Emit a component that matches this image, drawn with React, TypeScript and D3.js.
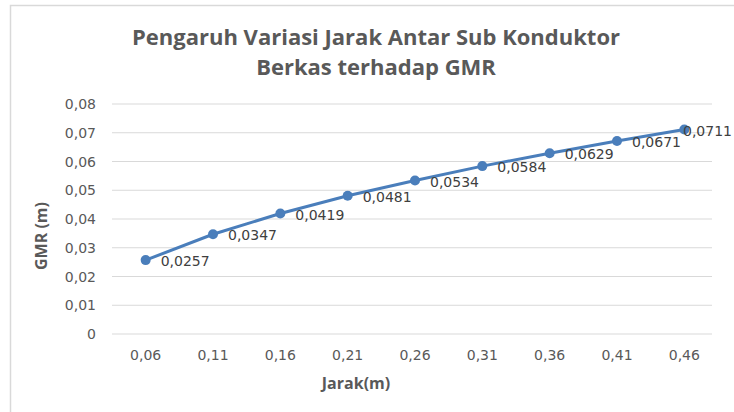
import React from "react";
import * as d3 from "d3";

const categories = ["0,06", "0,11", "0,16", "0,21", "0,26", "0,31", "0,36", "0,41", "0,46"];
const gmrValues = [0.0257, 0.0347, 0.0419, 0.0481, 0.0534, 0.0584, 0.0629, 0.0671, 0.0711];
const yTicks = [0, 0.01, 0.02, 0.03, 0.04, 0.05, 0.06, 0.07, 0.08];
const titleLines = ["Pengaruh Variasi  Jarak Antar Sub Konduktor", "Berkas terhadap GMR"];
const xTitle = "Jarak(m)";
const yTitle = "GMR (m)";

const W = 734;
const H = 412;
const plot = { left: 112, right: 718, top: 104, bottom: 334 };

const fmt = (v: number) => (v === 0 ? "0" : String(v).replace(".", ","));
const fmtTick = (v: number) => (v === 0 ? "0" : v.toFixed(2).replace(".", ","));

export default function App() {
  const x = d3.scaleBand<string>().domain(categories).range([plot.left, plot.right]);
  const y = d3.scaleLinear().domain([0, 0.08]).range([plot.bottom, plot.top]);
  const cx = (c: string) => (x(c) as number) + x.bandwidth() / 2;
  const pts = categories.map((c, i) => [cx(c), y(gmrValues[i])] as [number, number]);
  const line = d3.line();
  const labelW = 50;
  const tickFont = "'DejaVu Sans', sans-serif";
  const titleFont = "'Open Sans', Lato, sans-serif";

  return (
    <svg width={W} height={H} style={{ position: "absolute", left: 0, top: 0, background: "#fff" }}>
      <rect x={10.5} y={5.5} width={740} height={420} fill="#fff" stroke="#d9d9d9" strokeWidth={1.5} />
      {titleLines.map((t, i) => (
        <text key={t} x={376} y={45 + i * 30} textAnchor="middle" fontFamily={titleFont} fontWeight={700}
          fontSize={22} fill="#595959">{t}</text>
      ))}
      {yTicks.map((t) => (
        <g key={t}>
          <line x1={plot.left} x2={plot.right - 6} y1={y(t)} y2={y(t)} stroke="#d9d9d9" strokeWidth={1} />
          <text x={96} y={y(t)} dy="0.36em" textAnchor="end" fontFamily={tickFont} fontSize={14} fill="#595959">
            {fmtTick(t)}
          </text>
        </g>
      ))}
      {categories.map((c) => (
        <text key={c} x={cx(c)} y={355} dy="0.36em" textAnchor="middle" fontFamily={tickFont} fontSize={14} fill="#595959">
          {c}
        </text>
      ))}
      <text x={356} y={389} textAnchor="middle" fontFamily={titleFont} fontWeight={700} fontSize={16}
        fill="#595959">{xTitle}</text>
      <text transform={`translate(47,236) rotate(-90)`} textAnchor="middle" fontFamily={titleFont}
        fontWeight={700} fontSize={16} fill="#595959">{yTitle}</text>
      <path d={line(pts) || ""} fill="none" stroke="#4a7ebb" strokeWidth={3} strokeLinejoin="round" />
      {pts.map(([px, py], i) => (
        <circle key={i} cx={px} cy={py} r={5} fill="#4a7ebb" />
      ))}
      {pts.map(([px, py], i) => (
        <text key={"l" + i} x={Math.min(px + 15, W - labelW - 1)} y={py + 1} dy="0.36em" fontFamily={tickFont}
          fontSize={14} fill="#404040">{fmt(gmrValues[i])}</text>
      ))}
    </svg>
  );
}
